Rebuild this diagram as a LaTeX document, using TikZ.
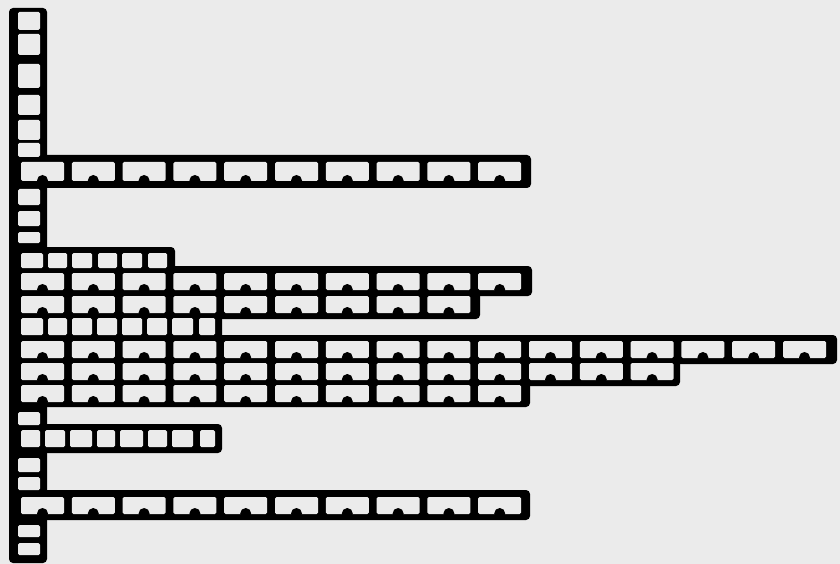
\documentclass[tikz,border=0pt]{standalone}
\definecolor{bg}{gray}{0.92}
\tikzset{
  frame/.style={fill=black, rounded corners=4pt},
  cell/.style={fill=bg, rounded corners=1.5pt},
  bump/.style={fill=black}
}
% wide row of cells: #1 top y, #2 height, #3 count
\newcommand\wrow[3]{%
  \foreach \i in {1,...,#3}{
    \fill[cell] ({21+50.8*(\i-1)},#1) rectangle ++(43,#2);
    \fill[bump] ({42.5+50.8*(\i-1)},{#1+#2-0.5}) circle (5.5);
  }}
% small row of cells: #1 top y, #2 height, #3 list x1/x2
\newcommand\srow[3]{%
  \foreach \a/\b in {#3}{
    \fill[cell] (\a,#1) rectangle (\b,{#1+#2});
  }}
\begin{document}
\begin{tikzpicture}[x=1pt,y=-1pt]
\useasboundingbox (0,0) rectangle (840,564);
\fill[bg] (0,0) rectangle (840,564);
% black frames
\fill[frame] (9,8) rectangle (47,563);
\fill[frame] (9,155) rectangle (531,188);
\fill[frame] (9,247) rectangle (175,273);
\fill[frame] (9,266) rectangle (532,296);
\fill[frame] (9,290) rectangle (480,319);
\fill[frame] (9,313) rectangle (222,340);
\fill[frame] (9,335) rectangle (837,364);
\fill[frame] (9,358) rectangle (680,386);
\fill[frame] (9,380) rectangle (530,407);
\fill[frame] (9,424) rectangle (222,453);
\fill[frame] (9,490) rectangle (530,520);
% spine cells
\foreach \a/\b in {12/30, 34/55, 64/88, 95/115, 120/140, 143/157, 189/205, 211/226, 232/243, 412/425, 458/472, 477/490, 525/537, 543/555}
  \fill[cell] (18,\a) rectangle (40,\b);
% rows
\wrow{162}{19}{10}
\srow{253}{15}{21/43,48/67,72/92,98/117,122/142,148/167}
\wrow{273}{17}{10}
\wrow{296}{17}{9}
\srow{318}{17}{21/43,48/67,72/92,97/117,122/142,147/167,172/193,199/215}
\wrow{341}{17}{16}
\wrow{363}{17}{13}
\wrow{385}{17}{10}
\srow{430}{17}{21/40,45/65,70/92,97/115,120/143,148/167,172/193,200/215}
\wrow{497}{17}{10}
\end{tikzpicture}
\end{document}
